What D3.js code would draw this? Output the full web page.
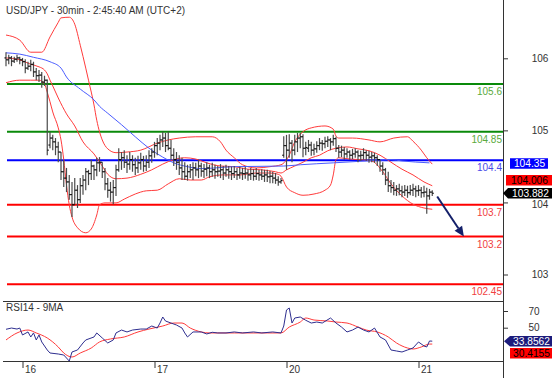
<!DOCTYPE html>
<html>
<head>
<meta charset="utf-8">
<script src="https://cdn.jsdelivr.net/npm/d3@7"></script>
<style>
  body { margin: 0; background: #fff; }
  svg { display: block; font-family: "Liberation Sans", Arial, sans-serif; }
</style>
</head>
<body>
<svg id="chart" width="558" height="378"></svg>
<script>
const title = "USD/JPY - 30min - 2:45:40 AM (UTC+2)";
const rsiTitle = "RSI14 - 9MA";

// x: 30 min bar index, day ticks
const dayIdx = [6, 54, 102, 150];
const dayLabels = ["16", "17", "20", "21"];
const priceTicks = [103, 104, 105, 106];
const rsiTicks = [50, 70];

// [open, high, low, close]
const bars = [
  [106.01,106.10,105.88,105.98],[105.98,106.06,105.91,106.01],[106.01,106.04,105.88,105.96],[105.96,106.03,105.93,105.99],
  [105.99,106.06,105.95,106.01],[106.01,106.03,105.91,105.98],[105.98,106.01,105.88,105.95],[105.95,105.99,105.77,105.85],
  [105.85,105.95,105.82,105.88],[105.88,105.98,105.80,105.91],[105.91,105.95,105.71,105.79],[105.79,105.85,105.66,105.73],
  [105.73,105.82,105.63,105.74],[105.74,105.79,105.54,105.63],[105.63,105.73,105.57,105.66],[105.66,105.67,104.48,104.56],
  [104.64,104.85,104.59,104.75],[104.75,104.80,104.56,104.69],[104.69,104.75,104.48,104.61],[104.61,104.69,104.37,104.53],
  [104.53,104.53,104.09,104.22],[104.22,104.41,103.98,104.12],[104.12,104.28,103.90,104.06],[104.06,104.17,103.78,103.86],
  [103.86,104.06,103.51,103.70],[103.70,104.12,103.70,103.93],[103.93,104.01,103.65,103.78],[103.78,104.12,103.73,104.00],
  [104.00,104.17,103.86,104.09],[104.09,104.28,103.93,104.22],[104.22,104.25,104.01,104.19],[104.19,104.41,104.09,104.31],
  [104.31,104.33,104.09,104.25],[104.25,104.44,104.15,104.36],[104.36,104.45,104.22,104.37],[104.37,104.37,104.12,104.22],
  [104.22,104.28,103.93,104.03],[104.03,104.12,103.81,103.93],[103.93,104.06,103.75,103.90],[103.90,104.09,103.71,103.97],
  [103.97,104.33,103.84,104.25],[104.25,104.59,104.22,104.41],[104.41,104.53,104.25,104.44],[104.44,104.56,104.28,104.37],
  [104.37,104.48,104.20,104.34],[104.34,104.53,104.25,104.41],[104.41,104.48,104.22,104.33],[104.33,104.44,104.17,104.28],
  [104.28,104.47,104.20,104.36],[104.36,104.52,104.25,104.41],[104.41,104.47,104.22,104.31],[104.31,104.48,104.23,104.37],
  [104.37,104.56,104.28,104.47],[104.47,104.59,104.36,104.53],[104.53,104.69,104.44,104.63],[104.63,104.75,104.48,104.67],
  [104.67,104.80,104.56,104.72],[104.72,104.85,104.61,104.75],[104.75,104.83,104.53,104.63],[104.63,104.85,104.56,104.59],
  [104.59,104.72,104.41,104.48],[104.48,104.59,104.31,104.41],[104.41,104.53,104.25,104.37],[104.37,104.48,104.17,104.28],
  [104.28,104.44,104.09,104.22],[104.22,104.37,104.09,104.15],[104.15,104.33,104.08,104.22],[104.22,104.34,104.12,104.25],
  [104.25,104.37,104.09,104.28],[104.28,104.36,104.15,104.25],[104.25,104.41,104.12,104.31],[104.31,104.36,104.14,104.23],
  [104.23,104.34,104.12,104.26],[104.26,104.37,104.15,104.28],[104.28,104.33,104.12,104.22],[104.22,104.36,104.14,104.25],
  [104.25,104.33,104.11,104.22],[104.22,104.31,104.14,104.23],[104.23,104.34,104.12,104.25],[104.25,104.31,104.09,104.20],
  [104.20,104.33,104.14,104.25],[104.25,104.31,104.11,104.22],[104.22,104.30,104.09,104.19],[104.19,104.31,104.12,104.22],
  [104.22,104.28,104.09,104.17],[104.17,104.30,104.11,104.20],[104.20,104.28,104.09,104.19],[104.19,104.30,104.11,104.20],
  [104.20,104.26,104.08,104.17],[104.17,104.28,104.09,104.19],[104.19,104.26,104.08,104.15],[104.15,104.28,104.09,104.19],
  [104.19,104.25,104.08,104.17],[104.17,104.26,104.09,104.15],[104.15,104.25,104.06,104.17],[104.17,104.25,104.06,104.14],
  [104.14,104.23,104.04,104.15],[104.15,104.22,104.04,104.12],[104.12,104.20,104.03,104.09],[104.09,104.15,104.00,104.06],
  [104.06,104.12,104.03,104.08],[104.48,104.78,104.44,104.63],[104.63,104.80,104.25,104.56],[104.56,104.81,104.44,104.67],
  [104.67,104.72,104.37,104.56],[104.56,104.80,104.48,104.69],[104.69,104.83,104.53,104.75],[104.75,104.83,104.59,104.77],
  [104.77,104.81,104.45,104.59],[104.59,104.69,104.48,104.60],[104.59,104.72,104.53,104.64],[104.64,104.69,104.47,104.56],
  [104.56,104.66,104.48,104.58],[104.58,104.70,104.52,104.63],[104.63,104.75,104.56,104.67],[104.67,104.72,104.55,104.66],
  [104.66,104.77,104.59,104.70],[104.70,104.78,104.61,104.72],[104.72,104.75,104.56,104.69],[104.69,104.80,104.63,104.74],
  [104.74,104.77,104.53,104.59],[104.59,104.64,104.44,104.53],[104.53,104.63,104.45,104.56],[104.56,104.61,104.41,104.50],
  [104.50,104.59,104.44,104.53],[104.53,104.56,104.41,104.48],[104.48,104.58,104.42,104.50],[104.50,104.59,104.44,104.53],
  [104.53,104.56,104.37,104.47],[104.47,104.55,104.39,104.48],[104.48,104.59,104.41,104.52],[104.52,104.56,104.39,104.48],
  [104.48,104.55,104.36,104.45],[104.45,104.53,104.37,104.47],[104.47,104.52,104.36,104.44],[104.44,104.48,104.31,104.41],
  [104.41,104.41,104.22,104.31],[104.31,104.37,104.17,104.25],[104.25,104.28,104.01,104.09],[104.09,104.22,103.90,104.00],
  [104.00,104.09,103.89,103.97],[103.97,104.06,103.85,103.93],[103.93,104.01,103.84,103.95],[103.95,104.03,103.85,103.92],
  [103.92,104.00,103.82,103.90],[103.90,104.01,103.84,103.93],[103.93,104.00,103.81,103.89],[103.89,104.01,103.85,103.93],
  [103.93,104.03,103.84,103.95],[103.95,104.00,103.82,103.92],[103.92,104.01,103.84,103.93],[103.93,103.98,103.81,103.89],
  [103.89,104.00,103.82,103.90],[103.90,103.97,103.56,103.84],[103.84,103.95,103.78,103.90],[103.90,103.93,103.84,103.882]
];

// Bollinger bands and moving average, read at [bar index, price]
const bbUpper = [[0,106.37],[5,106.29],[9,106.10],[13,106.10],[16,106.34],[19,106.57],[20,106.64],[23,106.65],[25,106.54],
  [27,106.21],[29,105.85],[30,105.66],[32,105.27],[33,105.03],[34,104.85],[35,104.72],[37,104.58],[40,104.52],[44,104.53],
  [49,104.56],[55,104.67],[59,104.72],[63,104.75],[69,104.77],[75,104.77],[78,104.69],[80,104.56],[83,104.44],[86,104.33],
  [91,104.28],[96,104.30],[100,104.33],[103,104.48],[105,104.69],[108,104.85],[111,104.91],[116,104.94],[119,104.89],
  [120,104.78],[121,104.75],[126,104.75],[132,104.72],[136,104.69],[141,104.75],[146,104.77],[148,104.70],[151,104.56],
  [153,104.44],[155,104.34]];
const bbMiddle = [[0,106.01],[5,105.98],[9,105.91],[12,105.87],[14,105.82],[15,105.76],[16,105.66],[17,105.57],[19,105.38],
  [22,105.13],[25,104.94],[28,104.69],[32,104.50],[35,104.31],[37,104.18],[40,104.11],[44,104.12],[49,104.18],[53,104.25],
  [57,104.34],[61,104.41],[65,104.44],[69,104.42],[73,104.36],[78,104.31],[83,104.30],[88,104.26],[93,104.25],[98,104.22],
  [100,104.20],[102,104.25],[105,104.31],[108,104.37],[111,104.44],[114,104.48],[117,104.55],[120,104.59],[124,104.61],
  [128,104.58],[132,104.55],[136,104.48],[140,104.37],[144,104.26],[148,104.17],[152,104.06],[155,104.00]];
const bbLower = [[0,105.62],[5,105.66],[9,105.66],[12,105.66],[14,105.60],[15,105.47],[16,105.32],[17,105.16],[19,104.91],
  [20,104.72],[21,104.41],[22,104.01],[23,103.70],[24,103.51],[26,103.34],[29,103.26],[31,103.32],[33,103.54],[34,103.70],
  [36,103.73],[40,103.73],[43,103.79],[47,103.87],[51,103.92],[55,103.93],[59,104.03],[63,104.11],[67,104.09],[71,104.09],
  [74,104.14],[79,104.17],[85,104.17],[91,104.20],[96,104.20],[99,104.18],[100,104.15],[102,103.98],[105,103.89],[108,103.85],
  [112,103.87],[116,103.93],[118,104.01],[119,104.17],[120,104.41],[121,104.44],[125,104.42],[129,104.41],[133,104.39],
  [137,104.22],[140,104.03],[144,103.84],[148,103.71],[152,103.65],[155,103.63]];
const movingAvg = [[0,106.09],[5,106.07],[10,106.02],[16,105.95],[20,105.85],[22,105.71],[27,105.52],[32,105.35],[34,105.25],
  [37,105.14],[42,104.96],[47,104.77],[52,104.59],[57,104.45],[61,104.36],[66,104.30],[71,104.27],[83,104.30],[101,104.31],
  [107,104.33],[119,104.36],[131,104.39],[140,104.41],[144,104.39],[154,104.36]];

// RSI14 and its 9 period average, [bar index, value]
const rsi = [[0,48.1],[2,49.6],[4,48.4],[5,49.6],[6,41.3],[8,44.9],[9,38.9],[10,43.7],[11,35.3],[12,41.3],[13,32.9],[15,23.3],
  [16,19.7],[19,18.5],[21,17.3],[22,13.7],[23,10.1],[24,20.9],[26,23.3],[28,31.7],[29,35.3],[32,38.9],[33,43.7],[35,37.7],
  [37,31.7],[39,35.3],[40,43.7],[42,47.2],[44,44.9],[46,47.2],[49,48.4],[51,48.4],[53,52.0],[55,49.6],[56,55.6],[57,62.8],
  [58,58.0],[60,55.6],[62,53.2],[64,49.6],[65,43.7],[66,38.9],[68,44.9],[71,44.9],[73,42.5],[75,44.5],[77,43.7],[80,43.7],
  [83,44.9],[86,43.7],[90,44.9],[93,43.7],[97,44.9],[100,43.7],[101,52.0],[102,71.2],[103,73.6],[104,55.6],[105,61.6],
  [107,62.8],[109,58.9],[111,55.6],[113,56.8],[115,55.6],[118,61.6],[120,55.6],[122,50.8],[124,44.9],[126,47.2],[128,50.8],
  [130,47.2],[132,44.9],[134,49.6],[136,38.9],[138,35.3],[140,23.3],[142,22.1],[144,20.9],[146,23.3],[148,25.7],[150,32.9],
  [152,28.1],[153,26.9],[154,34.1],[155,33.8562]];
const rsiMa = [[0,35.3],[4,43.7],[8,47.2],[11,43.7],[15,37.7],[19,26.9],[21,19.7],[24,14.9],[27,19.7],[31,25.7],[34,32.9],
  [38,36.5],[43,38.9],[48,44.9],[52,48.4],[57,52.0],[61,55.6],[64,55.6],[67,49.6],[71,44.9],[74,43.7],[83,43.7],[95,43.7],
  [100,43.7],[103,50.8],[107,56.8],[109,61.6],[112,59.2],[117,58.0],[120,56.8],[124,55.6],[128,50.8],[131,47.2],[135,44.9],
  [139,38.9],[142,31.7],[146,25.7],[148,24.5],[151,26.9],[154,30.4],[155,30.4155]];

// key levels
const levels = [105.6, 104.85, 104.4, 103.7, 103.2, 102.45];
const levelLabels = ["105.6", "104.85", "104.4", "103.7", "103.2", "102.45"];
const levelKinds = ["res", "res", "pivot", "sup", "sup", "sup"];

const pivotValue = 104.35;
const upperValue = 104.006;
const lastValue = 103.882;
const rsiValue = 33.8562;
const rsiMaValue = 30.4155;
// expected move: [bar index, price]
const arrowFrom = [156.8, 103.83];
const arrowTo = [166.5, 103.2];

const lineColor = { res: "#0a8a0a", pivot: "#0000ff", sup: "#ff0000" };
const textColor = { res: "#5aaa3c", pivot: "#4a4ae8", sup: "#f04040" };

const svg = d3.select("#chart");
const axisX = 503;

const x = d3.scaleLinear().domain([0, 155]).range([6, 432.25]);
const y = d3.scaleLinear().domain([102.45, 105.6]).range([284.3, 84]);
const yTicks = d3.scaleLinear().domain([103, 106]).range([274.5, 58.3]);
const ry = d3.scaleLinear().domain([0, 100]).range([369.45, 285.95]);

// title
svg.append("text").attr("x", 6).attr("y", 14)
  .attr("font-size", 10).attr("fill", "#333").text(title);

// level lines
levels.forEach((v, i) => {
  const k = levelKinds[i];
  svg.append("line")
    .attr("x1", 7).attr("x2", axisX)
    .attr("y1", y(v)).attr("y2", y(v))
    .attr("stroke", lineColor[k]).attr("stroke-width", 2);
  svg.append("text")
    .attr("x", axisX - 1).attr("y", y(v) + 11)
    .attr("text-anchor", "end").attr("font-size", 10)
    .attr("fill", textColor[k]).text(levelLabels[i]);
});

const line = d3.line()
  .x(d => x(d[0]))
  .y(d => y(d[1]))
  .curve(d3.curveMonotoneX);

[bbUpper, bbMiddle, bbLower].forEach(s => {
  svg.append("path").datum(s).attr("d", line)
    .attr("fill", "none").attr("stroke", "#ff3b3b").attr("stroke-width", 1);
});
svg.append("path").datum(movingAvg).attr("d", line)
  .attr("fill", "none").attr("stroke", "#4a5cff").attr("stroke-width", 1);

// OHLC bars
const gBars = svg.append("g");
bars.forEach((b, i) => {
  const cx = x(i);
  gBars.append("line")
    .attr("x1", cx).attr("x2", cx)
    .attr("y1", y(b[1])).attr("y2", y(b[2]))
    .attr("stroke", "#4a4a4a").attr("stroke-width", 1.2);
  gBars.append("line")
    .attr("x1", cx - 1.6).attr("x2", cx)
    .attr("y1", y(b[0])).attr("y2", y(b[0]))
    .attr("stroke", "#000").attr("stroke-width", 1);
  gBars.append("line")
    .attr("x1", cx).attr("x2", cx + 1.6)
    .attr("y1", y(b[3])).attr("y2", y(b[3]))
    .attr("stroke", "#000").attr("stroke-width", 1);
});

// arrow
const ax1 = x(arrowFrom[0]), ay1 = y(arrowFrom[1]);
const ax2 = x(arrowTo[0]), ay2 = y(arrowTo[1]);
const ang = Math.atan2(ay2 - ay1, ax2 - ax1);
const hl = 10, hw = 4.5;
const bx = ax2 - hl * Math.cos(ang), by = ay2 - hl * Math.sin(ang);
svg.append("line")
  .attr("x1", ax1).attr("y1", ay1).attr("x2", bx).attr("y2", by)
  .attr("stroke", "#14206a").attr("stroke-width", 2);
svg.append("path")
  .attr("d", `M${ax2},${ay2}L${bx + hw * Math.sin(ang)},${by - hw * Math.cos(ang)}L${bx - hw * Math.sin(ang)},${by + hw * Math.cos(ang)}Z`)
  .attr("fill", "#14206a");

// right axis line
svg.append("line")
  .attr("x1", axisX + 0.5).attr("x2", axisX + 0.5)
  .attr("y1", 0).attr("y2", 378)
  .attr("stroke", "#333");

// price axis
const gPrice = svg.append("g")
  .attr("transform", `translate(${axisX},0)`)
  .call(d3.axisRight(yTicks).tickValues(priceTicks).tickSize(5).tickFormat(d3.format("d")));
gPrice.select(".domain").remove();
gPrice.selectAll("line").attr("stroke", "#333");
gPrice.selectAll("text")
  .attr("x", 37).attr("text-anchor", "middle")
  .attr("font-size", 10).attr("font-family", null).attr("fill", "#333");
// 104 sits partly under the last price box, as in the original
gPrice.selectAll("text").filter(d => d === 104).attr("dy", "0.5em");

// value boxes
function valueBox(yc, x0, x1, tip, fill, txtFill, label) {
  const h = 10.5, top = yc - h / 2;
  let d;
  if (tip != null) {
    d = `M${tip},${yc}L${x0},${top}L${x1},${top}L${x1},${top + h}L${x0},${top + h}Z`;
  } else {
    d = `M${x0},${top}L${x1},${top}L${x1},${top + h}L${x0},${top + h}Z`;
  }
  svg.append("path").attr("d", d).attr("fill", fill);
  svg.append("text")
    .attr("x", (x0 + x1) / 2 + 0.5).attr("y", yc + 3.7)
    .attr("text-anchor", "middle").attr("font-size", 10.2)
    .attr("fill", txtFill).text(label);
}
const yLast = y(lastValue);
const yUp = Math.min(y(upperValue), yLast - 13);
valueBox(y(pivotValue), 510, 548, null, "#0000ff", "#fff", "104.35");
valueBox(yUp, 506, 552, null, "#ff0000", "#000", "104.006");
valueBox(yLast, 508, 552, 503, "#000", "#fff", "103.882");

// RSI panel
svg.append("line").attr("x1", 3).attr("x2", axisX).attr("y1", 301.5).attr("y2", 301.5).attr("stroke", "#333");
svg.append("line").attr("x1", 3).attr("x2", axisX).attr("y1", 361.5).attr("y2", 361.5).attr("stroke", "#333");
svg.append("text").attr("x", 6).attr("y", 311)
  .attr("font-size", 10).attr("fill", "#333").text(rsiTitle);

const rline = d3.line()
  .x(d => x(d[0]))
  .y(d => ry(d[1]));
svg.append("path").datum(rsiMa).attr("d", rline.curve(d3.curveMonotoneX))
  .attr("fill", "none").attr("stroke", "#ff3b3b").attr("stroke-width", 1);
svg.append("path").datum(rsi).attr("d", rline.curve(d3.curveLinear))
  .attr("fill", "none").attr("stroke", "#2e2e8f").attr("stroke-width", 1);

const gRsi = svg.append("g")
  .attr("transform", `translate(${axisX},0)`)
  .call(d3.axisRight(ry).tickValues(rsiTicks).tickSize(5));
gRsi.select(".domain").remove();
gRsi.selectAll("line").attr("stroke", "#333");
gRsi.selectAll("text")
  .attr("x", 31).attr("text-anchor", "middle")
  .attr("font-size", 10).attr("font-family", null).attr("fill", "#333");

const yR = ry(rsiValue);
valueBox(yR, 510, 552, 504, "#1c1c7c", "#fff", "33.8562");
valueBox(Math.max(ry(rsiMaValue), yR + 12), 510, 552, null, "#ff0000", "#000", "30.4155");

// time axis
const gTime = svg.append("g")
  .attr("transform", "translate(0,362)")
  .call(d3.axisBottom(x).tickValues(dayIdx).tickSize(6).tickFormat((d, i) => dayLabels[i]));
gTime.select(".domain").remove();
gTime.selectAll("line").attr("stroke", "#333");
gTime.selectAll("text")
  .attr("x", 2).attr("y", 4).attr("text-anchor", "start")
  .attr("font-size", 10).attr("font-family", null).attr("fill", "#333");
</script>
</body>
</html>
